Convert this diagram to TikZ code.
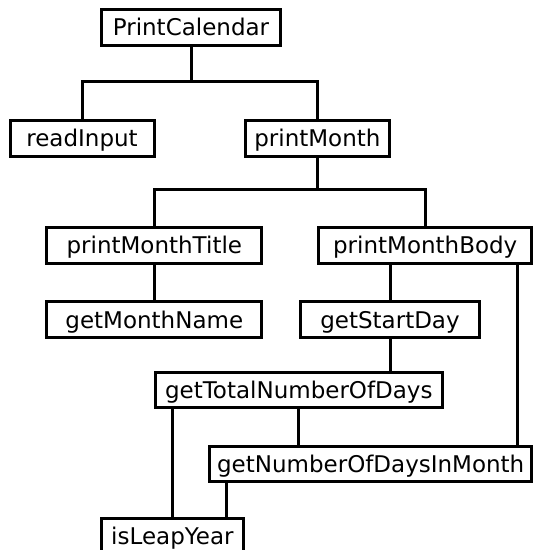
\documentclass[tikz,border=0pt]{standalone}
\usepackage{fontspec}
\setmainfont{DejaVu Sans}
\usepackage{tikz}
\usetikzlibrary{positioning,calc}

\begin{document}
\begin{tikzpicture}[
    x=1pt,y=-1pt,
    font=\fontsize{23}{27}\selectfont,
    func/.style={draw,line width=3pt,inner sep=0pt,minimum height=35.5pt,text height=16.6pt,text depth=0pt},
    link/.style={line width=3pt}
]
\useasboundingbox (0,0) rectangle (534,550);
\node[func,minimum width=179pt] (cal) at (191,27.6) {PrintCalendar};
\node[func,minimum width=144pt] (input) at (82,138.5) {readInput};
\node[func,minimum width=144pt] (month) at (317.4,138.5) {printMonth};
\node[func,minimum width=215pt] (title) at (154.3,245.5) {printMonthTitle};
\node[func,minimum width=213pt] (body) at (425.2,245.5) {printMonthBody};
\node[func,minimum width=215pt] (name) at (154.3,319.7) {getMonthName};
\node[func,minimum width=179pt] (start) at (390,319.7) {getStartDay};
\node[func,minimum width=287pt] (total) at (298.8,390.2) {getTotalNumberOfDays};
\node[func,minimum width=322pt] (days) at (370.7,463.8) {getNumberOfDaysInMonth};
\node[func,minimum width=142pt] (leap) at (172.4,536) {isLeapYear};
\coordinate (j1) at (191,81.7);
\coordinate (j2) at (317.4,189.5);
\draw[link] (cal.south) -- (j1);
\draw[link] (input.north) |- (j1) -| (month.north);
\draw[link] (month.south) -- (j2);
\draw[link] (title.north) |- (j2) -| (body.north);
\draw[link] (title.south) -- (name.north);
\draw[link] (start.north) -- (start.north |- body.south);
\draw[link] ([xshift=-16pt]body.south east) -- ([xshift=-16pt]days.north east);
\draw[link] (start.south) -- (start.south |- total.north);
\draw[link] (total.south) -- (total.south |- days.north);
\draw[link] (leap.north) -- (leap.north |- total.south);
\draw[link] ([xshift=18.6pt]days.south west) -- ([xshift=18.6pt]days.south west |- leap.north);
\end{tikzpicture}
\end{document}
